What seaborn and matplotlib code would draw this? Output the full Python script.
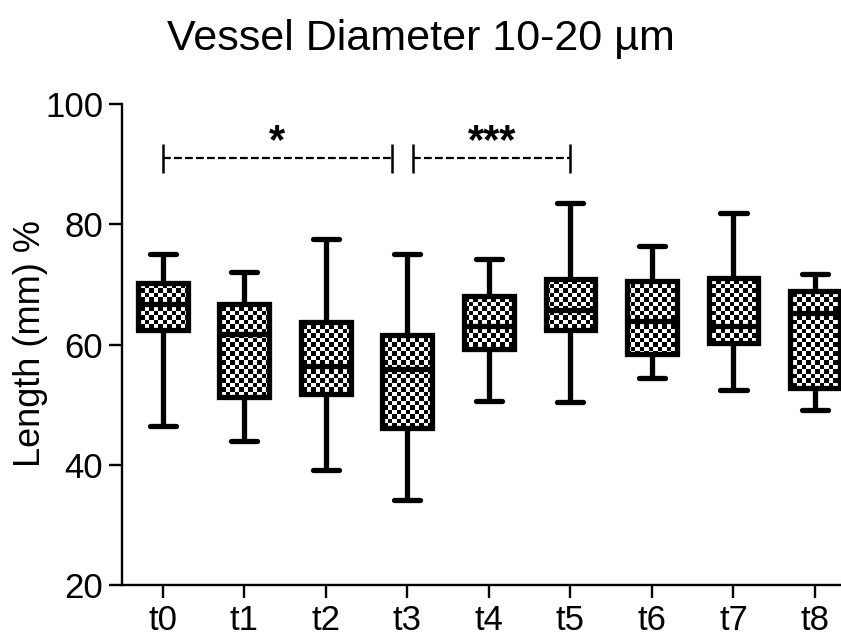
import numpy as np
import pandas as pd
import matplotlib
matplotlib.use("Agg")
import matplotlib.pyplot as plt
import seaborn as sns
from matplotlib import font_manager as fm

# ---- data ----
categories = ["t0", "t1", "t2", "t3", "t4", "t5", "t6", "t7", "t8"]
mins    = [46.4, 43.9, 39.2, 34.1, 50.6, 50.5, 54.5, 52.5, 49.1]
q1s     = [62.4, 51.3, 51.7, 46.1, 59.2, 62.4, 58.4, 60.3, 52.7]
medians = [66.8, 61.7, 56.4, 56.0, 63.1, 65.7, 63.9, 63.0, 65.2]
q3s     = [70.3, 66.8, 63.8, 61.6, 68.1, 70.9, 70.5, 71.0, 68.9]
maxs    = [75.0, 72.0, 77.5, 75.0, 74.2, 83.6, 76.3, 81.9, 71.7]
yticks = [20, 40, 60, 80, 100]
title = "Vessel Diameter 10-20 µm"
ylabel = "Length (mm) %"
# significance brackets: (start, end, label)
brackets = [(0.0, 2.81, "*"), (3.07, 5.0, "***")]
bracket_level = 91

rows = []
for c, a, b, m, d, e in zip(categories, mins, q1s, medians, q3s, maxs):
    for v in (a, b, m, d, e):
        rows.append({"time": c, "value": v})
df = pd.DataFrame(rows)

sns.set_theme(style="ticks")
plt.rcParams["font.family"] = ["Liberation Sans", "DejaVu Sans"]

W, H = 841, 639
fig = plt.figure(figsize=(W / 100, H / 100), dpi=100)
ax = fig.add_axes([122 / W, 54 / H, 733.75 / W, 481 / H])

sns.boxplot(data=df, x="time", y="value", order=categories, ax=ax,
            whis=(0, 100), width=0.61, color="white", linecolor="black",
            linewidth=3.8, fliersize=0, capwidths=0.32)

# checkered fill clipped to each box
nrows, ncols = 107, 163
checker = (np.add.outer(np.arange(nrows), np.arange(ncols)) % 2).astype(float)
for p in list(ax.patches):
    p.set_facecolor("none")
    p.set_zorder(3)
    im = ax.imshow(checker, extent=(-0.5, 8.5, 20, 100), cmap="gray_r",
                   interpolation="nearest", aspect="auto", zorder=2.5,
                   vmin=0, vmax=1)
    im.set_clip_path(p)
for ln in ax.lines:
    ln.set_zorder(3.5)

ax.set_xlim(-0.5, 8.5)
ax.set_ylim(20, 100)
ax.set_yticks(yticks)
ax.set_xlabel("")
ax.set_ylabel("")
for s in ["top", "right"]:
    ax.spines[s].set_visible(False)
for s in ["left", "bottom"]:
    ax.spines[s].set_linewidth(1.7)
    ax.spines[s].set_color("black")
ax.tick_params(axis="both", length=9.5, width=1.7, direction="out",
               labelsize=25, pad=4, color="black", labelcolor="black")

# significance brackets
for x0, x1, lab in brackets:
    ax.plot([x0, x1], [bracket_level, bracket_level], color="black", lw=1.6,
            ls=(0, (3.5, 1.45)), clip_on=False, zorder=4)
    for x in (x0, x1):
        ax.plot([x, x], [bracket_level - 2.4, bracket_level + 2.4], color="black",
                lw=1.8, clip_on=False, zorder=4, solid_capstyle="butt")
    ax.text((x0 + x1) / 2, bracket_level + 0.9, lab, ha="center", va="baseline",
            fontsize=30, fontweight="bold", color="black")

fig.text(0.5, 1 - 50 / H, title, ha="center", va="baseline",
         fontsize=31, color="black")
fig.text(40 / W, 1 - 343.5 / H, ylabel, rotation=90, rotation_mode="anchor",
         ha="center", va="baseline", fontsize=26, color="black")

fig.savefig("out.png", dpi=100)
